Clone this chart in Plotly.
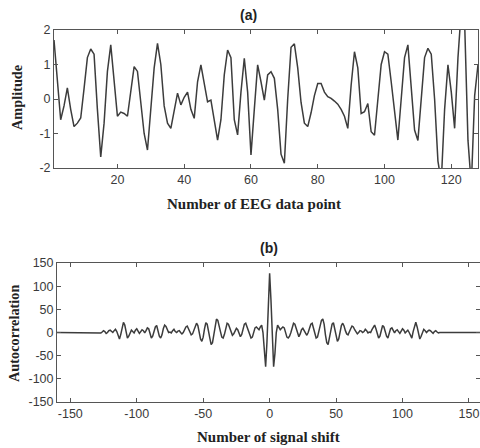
import plotly.graph_objects as go

W, H = 480, 448

# ---------------- data: panel (a) ----------------
eeg_index = list(range(1, 129))
eeg_amplitude = [
    1.71, 0.6, -0.6, -0.2, 0.32, -0.3, -0.8, -0.7, -0.55, 0.3,
    1.2, 1.45, 1.3, -0.3, -1.68, -0.7, 0.8, 1.57, 0.5, -0.5,
    -0.38, -0.42, -0.5, 0.2, 0.94, 0.8, -0.1, -1.0, -1.48, -0.3,
    0.9, 1.61, 1.0, -0.2, -0.7, -0.85, -0.3, 0.17, -0.17, 0.05,
    0.2, -0.3, -0.56, 0.5, 0.99, 0.5, -0.08, -0.03, -0.6, -1.19,
    -0.6, 0.7, 1.42, 1.2, -0.6, -1.04, 0.2, 1.18, 0.2, -1.62,
    -0.3, 0.99, 0.5, -0.03, 0.7, 0.79, 0.6, -0.3, -1.6, -1.86,
    0.0, 1.5, 1.6, 0.9, -0.1, -0.7, -0.8, -0.4, 0.1, 0.45,
    0.45, 0.2, 0.07, 0.02, -0.06, -0.15, -0.3, -0.5, -0.85, 0.4,
    1.37, 0.9, -0.42, -0.37, -0.13, -0.95, -1.05, -0.1, 1.0, 1.37,
    1.3, 0.5, -0.4, -1.19, 0.0, 1.2, 1.57, 0.3, -0.9, -1.2,
    0.0, 1.2, 1.47, 1.3, 0.0, -1.8, -2.4, -0.3, 0.99, 0.2,
    -0.85, 1.2, 2.6, 2.2, -1.2, -2.5, 0.1, 1.0,
]

# ---------------- data: panel (b) ----------------
shift = list(range(-160, 161))
autocorr_zero_left = [0] * 33          # lags -160 .. -128
autocorr_neg = [                        # lags -127 .. -1
    -1, 1, 4, 2, -2, 0, 4,
    5, 3, 0, 4, 7, 2, -8, -14, -4, 12,
    22, 16, 2, -12, -8, 0, 5, 2, -1, 5,
    8, 3, -2, 2, 6, 4, -1, 4, 10, 8,
    -4, -12, -8, 2, 12, 15, 5, -8, -12, -5,
    8, 16, 13, 6, 0, 1, -1, 4, 7, 2,
    0, 3, 4, 0, -3, 0, 6, 12, 14, 8,
    0, -5, -3, 4, 14, 20, 15, 2, -14, -19,
    -10, 8, 21, 18, 6, -12, -26, -22, -5, 18,
    29, 26, 16, 2, -10, -12, -4, 10, 20, 18,
    10, 0, -6, -3, 4, 9, 6, -3, -9, -4,
    8, 18, 20, 12, 0, -8, -12, -10, 0, 10,
    12, 9, 6, 12, 16, 0, -45, -74, -20, 70,
]
autocorr_pos = [                        # lags 0 .. 127
    128,
    70, -20, -74, -45, 0, 16, 12, 6, 9, 12,
    10, 0, -10, -12, -8, 0, 12, 20, 18, 8,
    -4, -9, -3, 6, 9, 4, -3, -6, 0, 10,
    18, 20, 10, -4, -12, -10, 2, 16, 26, 29,
    18, -5, -22, -26, -12, 6, 18, 21, 8, -10,
    -19, -14, 2, 15, 20, 14, 4, -3, -5, 0,
    8, 14, 12, 6, 0, -3, 0, 4, 3, 0,
    2, 7, 4, -1, 1, 0, 6, 13, 16, 8,
    -5, -12, -8, 5, 15, 12, 2, -8, -12, -4,
    8, 10, 4, -1, 4, 6, 2, -2, 3, 8,
    5, -1, 2, 5, 0, -8, -12, 2, 16, 22,
    12, -4, -14, -8, 2, 7, 4, 0, 3, 5,
    4, 0, -2, 2, 4, 1, -1,
]
autocorr_zero_right = [0] * 33         # lags 128 .. 160
autocorr = autocorr_zero_left + autocorr_neg + autocorr_pos + autocorr_zero_right

top_xticks = [20, 40, 60, 80, 100, 120]
top_xlabels = ["20", "40", "60", "80", "100", "120"]
top_yticks = [-2, -1, 0, 1, 2]
top_ylabels = ["-2", "-1", "0", "1", "2"]
bot_xticks = [-150, -100, -50, 0, 50, 100, 150]
bot_xlabels = ["-150", "-100", "-50", "0", "50", "100", "150"]
bot_yticks = [-150, -100, -50, 0, 50, 100, 150]
bot_ylabels = ["-150", "-100", "-50", "0", "50", "100", "150"]

# ---------------- figure ----------------
def px(x):
    return x / W

def py(y):
    return 1 - y / H

LINE = dict(color="#3c3c3c", width=1.5)
TICKFONT = dict(family="Liberation Sans, Arial, sans-serif", size=12.5, color="#3a3a3a")
XTITLEFONT = dict(family="Liberation Serif, Times New Roman, serif", size=15, color="#222222")
YTITLEFONT = dict(family="Liberation Serif, Times New Roman, serif", size=14.3, color="#222222")
HEADFONT = dict(family="Liberation Sans, Arial, sans-serif", size=14, color="#222222")

fig = go.Figure()
fig.add_trace(go.Scatter(x=eeg_index, y=eeg_amplitude, mode="lines", line=LINE,
                         xaxis="x", yaxis="y", showlegend=False))
fig.add_trace(go.Scatter(x=shift, y=autocorr, mode="lines", line=LINE,
                         xaxis="x2", yaxis="y2", showlegend=False))

axis_common = dict(showline=True, linecolor="#555555", linewidth=1, mirror="ticks",
                   ticks="inside", ticklen=4, tickcolor="#555555", showgrid=False,
                   zeroline=False, tickfont=TICKFONT, fixedrange=True,
                   automargin=False, tickmode="array")

fig.update_layout(
    width=W, height=H,
    margin=dict(l=0, r=0, t=0, b=0, pad=0, autoexpand=False),
    paper_bgcolor="white", plot_bgcolor="white",
    xaxis=dict(domain=[px(54), px(478)], range=[1, 128], tickvals=top_xticks,
               ticktext=top_xlabels, anchor="y", **axis_common),
    yaxis=dict(domain=[py(168), py(30)], range=[-2, 2], tickvals=top_yticks,
               ticktext=top_ylabels, anchor="x", **axis_common),
    xaxis2=dict(domain=[px(57), 1.0], range=[-160, 158.3], tickvals=bot_xticks,
                ticktext=bot_xlabels, anchor="y2", ticklabeloverflow="allow",
                **axis_common),
    yaxis2=dict(domain=[py(402), py(263)], range=[-150, 150], tickvals=bot_yticks,
                ticktext=bot_ylabels, anchor="x2", **axis_common),
    annotations=[
        dict(text="<b>(a)</b>", x=px(248), y=py(15), xref="paper", yref="paper",
             showarrow=False, font=HEADFONT, xanchor="center", yanchor="middle"),
        dict(text="<b>(b)</b>", x=px(269), y=py(248), xref="paper", yref="paper",
             showarrow=False, font=HEADFONT, xanchor="center", yanchor="middle"),
        dict(text="<b>Amplitude</b>", x=px(17), y=py(98), xref="paper", yref="paper",
             showarrow=False, font=YTITLEFONT, textangle=-90,
             xanchor="center", yanchor="middle"),
        dict(text="<b>Autocorrelation</b>", x=px(14), y=py(334), xref="paper", yref="paper",
             showarrow=False, font=YTITLEFONT, textangle=-90,
             xanchor="center", yanchor="middle"),
        dict(text="<b>Number of EEG data point</b>", x=px(254), y=py(204), xref="paper",
             yref="paper", showarrow=False, font=XTITLEFONT,
             xanchor="center", yanchor="middle"),
        dict(text="<b>Number of signal shift</b>", x=px(268), y=py(437), xref="paper",
             yref="paper", showarrow=False, font=XTITLEFONT,
             xanchor="center", yanchor="middle"),
    ],
)

fig.write_html(
    "out.html",
    config={"displayModeBar": False},
    post_script="document.body.style.margin='0px';document.body.style.overflow='hidden';",
)
